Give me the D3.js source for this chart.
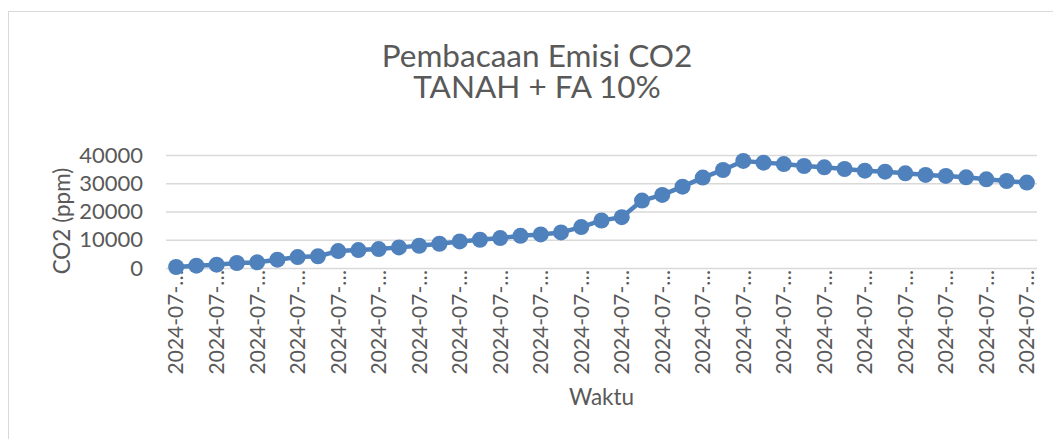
<!DOCTYPE html>
<html>
<head>
<meta charset="utf-8">
<script src="https://cdn.jsdelivr.net/npm/d3@7"></script>
<style>
  html, body { margin: 0; padding: 0; background: #ffffff; }
  svg { display: block; }
  text { font-family: Lato, "Open Sans", sans-serif; fill: #595959; }
</style>
</head>
<body>
<svg id="chart" width="1053" height="439"></svg>
<script>
// Chart text
const titleLines = ["Pembacaan Emisi CO2", "TANAH + FA 10%"];
const xTitle = "Waktu";
const yTitle = "CO2 (ppm)";

// Readings (ppm), one per time stamp
const co2 = [
  350, 820, 1180, 1760, 2000, 2940, 3880, 4120, 6000, 6350,
  6700, 7300, 7880, 8590, 9400, 10000, 10590, 11400, 11880, 12590,
  14470, 16820, 18000, 23870, 25870, 28800, 32000, 34700, 37900, 37300,
  36800, 36100, 35630, 35040, 34460, 34100, 33500, 32940, 32580, 32100,
  31400, 30800, 30230
];

// Time-stamp labels as displayed (truncated on the axis)
const timeLabels = co2.map(() => "2024-07-…");

// Y axis ticks
const yTicks = [0, 10000, 20000, 30000, 40000];

const svg = d3.select("#chart");
const W = 1053, H = 439;
const margin = { left: 166, right: 16, top: 155, bottom: 171 };
const plotW = W - margin.left - margin.right;
const plotH = H - margin.top - margin.bottom;

// Outer chart border
svg.append("rect")
  .attr("x", 8.5).attr("y", 11.5)
  .attr("width", 1060).attr("height", 460)
  .attr("fill", "#ffffff")
  .attr("stroke", "#d9d9d9").attr("stroke-width", 1);

// Title, two lines
svg.append("g").selectAll("text").data(titleLines).join("text")
  .attr("text-anchor", "middle")
  .attr("x", 537)
  .attr("y", (d, i) => 67 + i * 31)
  .style("font-size", "31.5px")
  .text(d => d);

const g = svg.append("g").attr("transform", `translate(${margin.left},${margin.top})`);

const x = d3.scaleBand().domain(d3.range(co2.length)).range([0, plotW]);
const y = d3.scaleLinear().domain([0, 40000]).range([plotH, 0]);

// Horizontal gridlines
g.append("g")
  .call(d3.axisLeft(y).tickValues(yTicks).tickSize(-plotW).tickFormat(""))
  .call(a => a.select(".domain").remove())
  .call(a => a.selectAll("line").attr("stroke", "#d9d9d9").attr("stroke-width", 1.4));

// Y axis labels
g.append("g")
  .call(d3.axisLeft(y).tickValues(yTicks).tickSize(0).tickPadding(23).tickFormat(d3.format("d")))
  .call(a => a.select(".domain").remove())
  .call(a => a.selectAll("text").style("font-size", "22px").attr("fill", "#595959").style("font-family", "Lato, sans-serif"));

// X axis labels (every other time stamp)
const xAxis = g.append("g")
  .attr("transform", `translate(0,${plotH})`)
  .call(d3.axisBottom(x)
    .tickValues(d3.range(0, co2.length, 2))
    .tickSize(0)
    .tickFormat(i => timeLabels[i]));
xAxis.select(".domain").remove();
xAxis.selectAll("text")
  .style("font-size", "21px")
  .style("font-family", "Lato, sans-serif")
  .attr("fill", "#595959")
  .attr("text-anchor", "end")
  .attr("transform", "rotate(-90)")
  .attr("x", -2)
  .attr("y", 0)
  .attr("dy", "0.35em");

// Series line and markers
const cx = i => x(i) + x.bandwidth() / 2;
g.append("path")
  .datum(co2)
  .attr("fill", "none")
  .attr("stroke", "#4f81bd")
  .attr("stroke-width", 4.5)
  .attr("stroke-linejoin", "round")
  .attr("d", d3.line().x((d, i) => cx(i)).y(d => y(d)));

g.append("g").selectAll("circle")
  .data(co2)
  .join("circle")
  .attr("cx", (d, i) => cx(i))
  .attr("cy", d => y(d))
  .attr("r", 8)
  .attr("fill", "#4f81bd");

// Axis titles
svg.append("text")
  .attr("text-anchor", "middle")
  .attr("transform", `translate(${margin.left + plotW / 2},405)`)
  .style("font-size", "22.5px")
  .text(xTitle);

svg.append("text")
  .attr("text-anchor", "middle")
  .attr("transform", "translate(70,221) rotate(-90)")
  .style("font-size", "22.5px")
  .text(yTitle);
</script>
</body>
</html>
